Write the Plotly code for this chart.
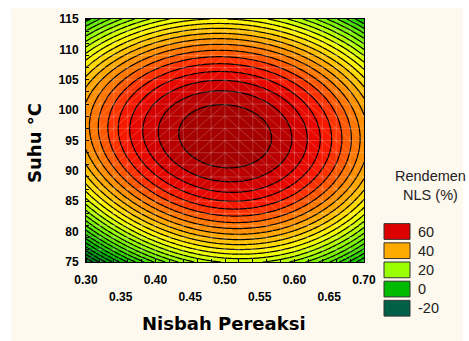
import numpy as np
import plotly.graph_objects as go

# Axis ranges and tick labels
ratio_range = [0.30, 0.70]
temp_range = [75, 115]
ratio_ticks_row1 = [0.30, 0.40, 0.50, 0.60, 0.70]
ratio_ticks_row2 = [0.35, 0.45, 0.55, 0.65]
temp_ticks = [75, 80, 85, 90, 95, 100, 105, 110, 115]

# Fitted response-surface coefficients in coded units
# X = (ratio - 0.5) / 0.2, Y = (temp - 95) / 20
b0 = 68.75
b1 = 0.25
b2 = 2.9
b11 = -25.4
b22 = -41.6
b12 = -5.0
b122 = 2.5
b112 = 3.5
b1122 = -3.0

# Contour settings
level_start = -30
level_step = 3

# Legend entries
legend_levels = ["60", "40", "20", "0", "-20"]
legend_colors = ["#DD0000", "#FFAA00", "#99FF00", "#00BB00", "#006048"]

ratio = np.linspace(ratio_range[0], ratio_range[1], 161)
temp = np.linspace(temp_range[0], temp_range[1], 161)
R, T = np.meshgrid(ratio, temp)
X = (R - 0.5) / 0.2
Y = (T - 95) / 20
Z = (b0 + b1 * X + b2 * Y + b11 * X**2 + b22 * Y**2 + b12 * X * Y
     + b122 * X * Y**2 + b112 * X**2 * Y + b1122 * X**2 * Y**2)

zmin, zmax = -20, 70
def t(v):
    return (v - zmin) / (zmax - zmin)

colorscale = [
    [t(-20), "#005a3c"],
    [t(-10), "#007a20"],
    [t(0), "#00b400"],
    [t(10), "#44dd00"],
    [t(20), "#99ff00"],
    [t(30), "#ffff00"],
    [t(40), "#ffaa00"],
    [t(48), "#ff6a00"],
    [t(54), "#ff2000"],
    [t(60), "#e00000"],
    [t(65), "#b40000"],
    [t(70), "#960000"],
]

fig = go.Figure()
fig.add_trace(go.Contour(
    x=ratio, y=temp, z=Z,
    zmin=zmin, zmax=zmax, autocontour=False,
    contours=dict(start=level_start, end=90, size=level_step, coloring="fill"),
    colorscale=colorscale, showscale=False,
    line=dict(color="black", width=1.2),
    hoverinfo="skip",
))

# Faint triangulated mesh over the surface
gx = np.linspace(ratio_range[0], ratio_range[1], 21)
gy = np.linspace(temp_range[0], temp_range[1], 21)
mx, my = [], []
for v in gx[1:-1]:
    mx += [v, v, None]; my += [gy[0], gy[-1], None]
for v in gy[1:-1]:
    mx += [gx[0], gx[-1], None]; my += [v, v, None]
mid = 0.5 * (ratio_range[0] + ratio_range[1])
for i in range(len(gx) - 1):
    for j in range(len(gy) - 1):
        if gx[i] < mid - 1e-9:
            mx += [gx[i], gx[i + 1], None]; my += [gy[j], gy[j + 1], None]
        else:
            mx += [gx[i], gx[i + 1], None]; my += [gy[j + 1], gy[j], None]
fig.add_trace(go.Scatter(
    x=mx, y=my, mode="lines",
    line=dict(color="rgba(255,255,255,0.2)", width=1),
    hoverinfo="skip", showlegend=False,
))

tick_font = dict(family="Liberation Sans", size=12, color="black", weight="bold")
title_font = dict(family="DejaVu Sans", size=18, color="black", weight="bold")

fig.update_layout(
    width=469, height=341,
    margin=dict(l=86, r=105, t=15, b=79),
    paper_bgcolor="white",
    plot_bgcolor="#FEF9EE",
    showlegend=False,
    xaxis=dict(
        range=ratio_range, tickvals=ratio_ticks_row1,
        ticktext=[f"{v:.2f}" for v in ratio_ticks_row1],
        tickfont=tick_font, ticks="", showgrid=False, zeroline=False,
        showline=True, linecolor="black", linewidth=1, mirror=True,
        ticklabelstandoff=7,
        minor=dict(tickvals=list(gx), ticks="inside", ticklen=3, tickcolor="black"),
    ),
    xaxis2=dict(
        range=ratio_range, overlaying="x", side="bottom", matches="x",
        tickvals=ratio_ticks_row2,
        ticktext=[f"{v:.2f}" for v in ratio_ticks_row2],
        tickfont=tick_font, ticks="", showgrid=False, zeroline=False,
        showline=False, ticklabelstandoff=26,
    ),
    yaxis=dict(
        range=temp_range, tickvals=temp_ticks,
        ticktext=[str(v) for v in temp_ticks],
        tickfont=tick_font, ticks="", showgrid=False, zeroline=False,
        showline=True, linecolor="black", linewidth=1, mirror=True,
        ticklabelstandoff=4,
        minor=dict(tickvals=list(gy), ticks="inside", ticklen=3, tickcolor="black"),
    ),
)

# Empty trace on the second x axis so its labels render
fig.add_trace(go.Scatter(x=[None], y=[None], xaxis="x2", yaxis="y",
                         showlegend=False, hoverinfo="skip"))

# Cream panel behind the whole chart
fig.add_shape(type="rect", xref="paper", yref="paper",
              x0=(11 - 86) / 278, x1=(463 - 86) / 278,
              y0=(262 - 345) / 247, y1=(262 - 4) / 247,
              fillcolor="#FEF9EE", line=dict(width=0), layer="below")

fig.add_annotation(text="Suhu °C", xref="paper", yref="paper",
                   x=(35 - 86) / 278, y=0.49, textangle=-90, showarrow=False,
                   font=title_font, xanchor="center", yanchor="middle")
fig.add_annotation(text="Nisbah Pereaksi", xref="paper", yref="paper",
                   x=0.497, y=(262 - 325) / 247, showarrow=False,
                   font=title_font, xanchor="center", yanchor="middle")

legend_font = dict(family="Liberation Sans", size=14.5, color="#222222")
fig.add_annotation(text="Rendemen<br>NLS (%)", xref="paper", yref="paper",
                   x=(430 - 86) / 278, y=(262 - 184) / 247, showarrow=False,
                   font=legend_font, xanchor="center", yanchor="middle")
for i, (lab, col) in enumerate(zip(legend_levels, legend_colors)):
    top = 223 + 19.5 * i
    fig.add_shape(type="rect", xref="paper", yref="paper",
                  x0=(384 - 86) / 278, x1=(410 - 86) / 278,
                  y0=(262 - (top + 16)) / 247, y1=(262 - top) / 247,
                  fillcolor=col, line=dict(color="#333333", width=1))
    fig.add_annotation(text=lab, xref="paper", yref="paper",
                       x=(416 - 86) / 278, y=(262 - (top + 8)) / 247,
                       showarrow=False, font=legend_font,
                       xanchor="left", yanchor="middle")

fig.write_html("out.html")
